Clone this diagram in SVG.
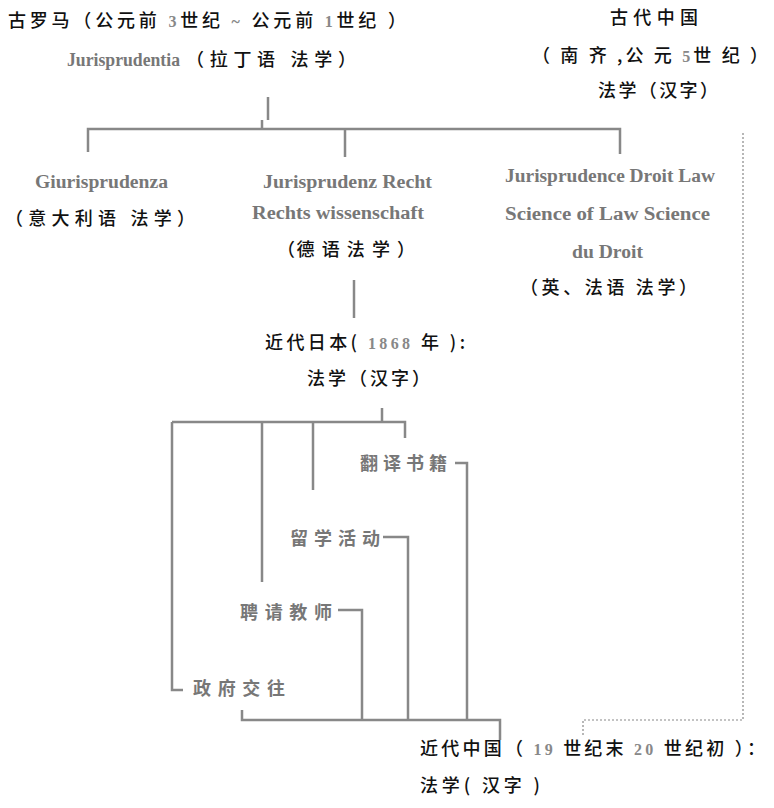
<svg xmlns="http://www.w3.org/2000/svg" width="774" height="808" viewBox="0 0 774 808">
<style>
.cn{font-family:"Noto Sans CJK SC","Noto Sans",sans-serif;font-size:18px;fill:#111;font-weight:500}
.lat{font-family:"Liberation Serif","DejaVu Serif",serif;font-size:18px;fill:#777;font-weight:bold}
.num{font-family:"Liberation Serif",serif;font-size:16px;fill:#888;font-weight:bold}
.gl{font-family:"Noto Sans CJK SC",sans-serif;font-size:18px;fill:#777;font-weight:bold}
.ln{fill:none;stroke:#888;stroke-width:2.5}
.dot{fill:none;stroke:#888;stroke-width:1.2;stroke-dasharray:2 2}
</style>
<rect width="774" height="808" fill="#fff"/>
<g id="rome">
<text class="cn" x="8" y="27" textLength="398" lengthAdjust="spacing">古罗马（公元前 <tspan class="num">3</tspan>世纪 <tspan class="num">~</tspan> 公元前 <tspan class="num">1</tspan>世纪 ）</text>
<text x="67" y="66" class="lat" textLength="113" lengthAdjust="spacingAndGlyphs">Jurisprudentia</text>
<text class="cn" x="186" y="66" textLength="170" lengthAdjust="spacing">（拉丁语 法学）</text>
</g>
<g id="ancient-china">
<text class="cn" x="610" y="24" textLength="88" lengthAdjust="spacing">古代中国</text>
<text class="cn" x="532" y="62" textLength="236" lengthAdjust="spacing">（ 南 齐 ,公 元 <tspan class="num">5</tspan>世 纪 ）</text>
<text class="cn" x="598" y="97" textLength="120" lengthAdjust="spacing">法学（汉字）</text>
</g>
<g id="italy">
<text class="lat" x="35" y="188" textLength="133" lengthAdjust="spacingAndGlyphs">Giurisprudenza</text>
<text class="cn" x="5" y="225" textLength="190" lengthAdjust="spacing">（意大利语 法学）</text>
</g>
<g id="germany">
<text class="lat" x="263" y="188" textLength="169" lengthAdjust="spacingAndGlyphs">Jurisprudenz Recht</text>
<text class="lat" x="252" y="219" textLength="172" lengthAdjust="spacingAndGlyphs">Rechts wissenschaft</text>
<text class="cn" x="277" y="256" textLength="138" lengthAdjust="spacing">（德 语 法 学 ）</text>
</g>
<g id="english-french">
<text class="lat" x="505" y="182" textLength="210" lengthAdjust="spacingAndGlyphs">Jurisprudence Droit Law</text>
<text class="lat" x="505" y="220" textLength="205" lengthAdjust="spacingAndGlyphs">Science of Law Science</text>
<text class="lat" x="572" y="258" textLength="71" lengthAdjust="spacingAndGlyphs">du Droit</text>
<text class="cn" x="520" y="294" textLength="177" lengthAdjust="spacing">（英、法语 法学）</text>
</g>
<g id="japan">
<text class="cn" x="265" y="349" textLength="200" lengthAdjust="spacing">近代日本( <tspan class="num">1868</tspan> 年 ):</text>
<text class="cn" x="307" y="385" textLength="123" lengthAdjust="spacing">法学（汉字）</text>
</g>
<g id="translate"><text class="gl" x="360" y="470" textLength="87" lengthAdjust="spacing">翻译书籍</text></g>
<g id="study"><text class="gl" x="290" y="545" textLength="90" lengthAdjust="spacing">留学活动</text></g>
<g id="teachers"><text class="gl" x="240" y="619" textLength="92" lengthAdjust="spacing">聘请教师</text></g>
<g id="government"><text class="gl" x="193" y="695" textLength="92" lengthAdjust="spacing">政府交往</text></g>
<g id="modern-china">
<text class="cn" x="420" y="755" textLength="345" lengthAdjust="spacing">近代中国（ <tspan class="num">19</tspan> 世纪末 <tspan class="num">20</tspan> 世纪初 ）：</text>
<text class="cn" x="420" y="792" textLength="120" lengthAdjust="spacing">法学( 汉字 )</text>
</g>
<g id="connectors">
<path class="ln" d="M268 97V120M262 120V129M88 152V129H620V154M345 129V157"/>
<path class="ln" d="M354 280V318"/>
<path class="ln" d="M382 408V422M172 422H405V438M172 422V690H183M262 422V582M313 422V490"/>
<path class="ln" d="M455 463H467V720M383 537H408V720M338 610H362V720M242 710V720H500V740"/>
<path class="dot" d="M743 133V720H583V737"/>
</g>
</svg>
